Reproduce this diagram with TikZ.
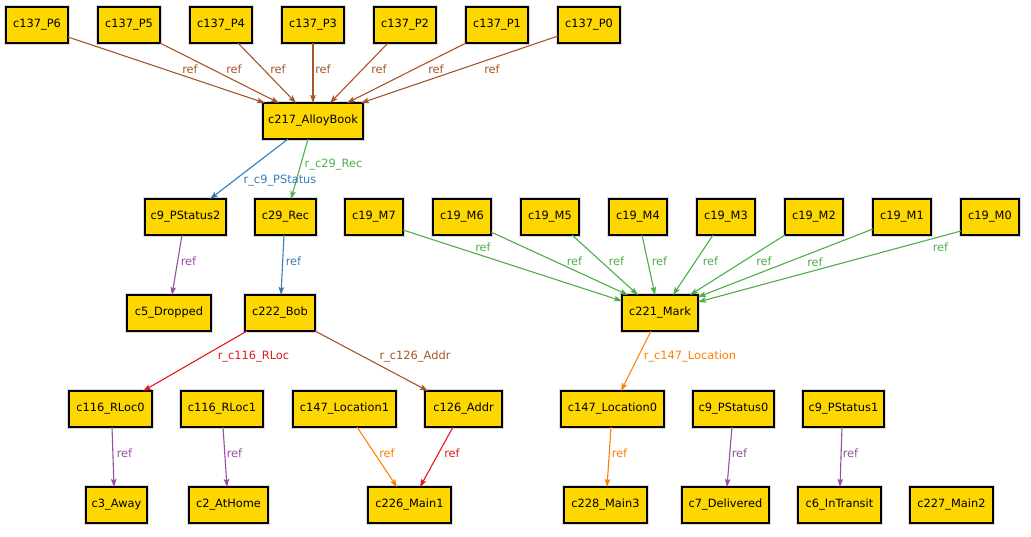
\documentclass[tikz,border=0pt]{standalone}
\usepackage{fontspec}
\setmainfont{DejaVu Sans}
\usetikzlibrary{arrows.meta}
\definecolor{ebrown}{HTML}{A65628}
\definecolor{egreen}{HTML}{4DAF4A}
\definecolor{eblue}{HTML}{377EB8}
\definecolor{epurple}{HTML}{984EA3}
\definecolor{ered}{HTML}{E41A1C}
\definecolor{eorange}{HTML}{FF7F00}
\definecolor{boxfill}{HTML}{FFD700}
\tikzset{
  atom/.style={draw=black, line width=1.2pt, fill=boxfill, inner sep=1pt, outer sep=0pt,
    minimum height=36pt, font=\fontsize{11.4}{13}\selectfont,
    preaction={draw=black!14, line width=3.2pt}},
  rel/.style={line width=1.1pt, -{Stealth[length=8pt,width=5.5pt,inset=1.5pt]}},
  lbl/.style={inner sep=0pt, font=\fontsize{11.4}{13}\selectfont},
}
\begin{document}
\begin{tikzpicture}[x=1pt,y=-1pt]
\useasboundingbox[fill=white] (0,0) rectangle (1031,537);

% top row: the seven pages
\node[atom, minimum width=62pt] (p6) at (37,25) {c137\_P6};
\node[atom, minimum width=62pt] (p5) at (129,25) {c137\_P5};
\node[atom, minimum width=62pt] (p4) at (221,25) {c137\_P4};
\node[atom, minimum width=62pt] (p3) at (313,25) {c137\_P3};
\node[atom, minimum width=62pt] (p2) at (405,25) {c137\_P2};
\node[atom, minimum width=62pt] (p1) at (497,25) {c137\_P1};
\node[atom, minimum width=62pt] (p0) at (589,25) {c137\_P0};

\node[atom, minimum width=100pt] (book) at (313,121) {c217\_AlloyBook};

% second row
\node[atom, minimum width=81pt] (ps2) at (185.5,217) {c9\_PStatus2};
\node[atom, minimum width=61pt] (rec) at (285.5,217) {c29\_Rec};
\node[atom, minimum width=58pt] (m7) at (374,217) {c19\_M7};
\node[atom, minimum width=58pt] (m6) at (462,217) {c19\_M6};
\node[atom, minimum width=58pt] (m5) at (550,217) {c19\_M5};
\node[atom, minimum width=58pt] (m4) at (638,217) {c19\_M4};
\node[atom, minimum width=58pt] (m3) at (726,217) {c19\_M3};
\node[atom, minimum width=58pt] (m2) at (814,217) {c19\_M2};
\node[atom, minimum width=58pt] (m1) at (902,217) {c19\_M1};
\node[atom, minimum width=58pt] (m0) at (990,217) {c19\_M0};

% third row
\node[atom, minimum width=84pt] (dropped) at (169,313) {c5\_Dropped};
\node[atom, minimum width=70pt] (bob) at (280,313) {c222\_Bob};
\node[atom, minimum width=76pt] (mark) at (660,313) {c221\_Mark};

% fourth row
\node[atom, minimum width=83pt] (rl0) at (110.5,409) {c116\_RLoc0};
\node[atom, minimum width=82pt] (rl1) at (222,409) {c116\_RLoc1};
\node[atom, minimum width=103pt] (loc1) at (344.5,409) {c147\_Location1};
\node[atom, minimum width=77pt] (addr) at (463.5,409) {c126\_Addr};
\node[atom, minimum width=103pt] (loc0) at (612.5,409) {c147\_Location0};
\node[atom, minimum width=81pt] (ps0) at (733.5,409) {c9\_PStatus0};
\node[atom, minimum width=81pt] (ps1) at (843.5,409) {c9\_PStatus1};

% bottom row
\node[atom, minimum width=61pt] (away) at (116.5,505) {c3\_Away};
\node[atom, minimum width=79pt] (home) at (228.5,505) {c2\_AtHome};
\node[atom, minimum width=83pt] (main1) at (409.5,505) {c226\_Main1};
\node[atom, minimum width=83pt] (main3) at (605.5,505) {c228\_Main3};
\node[atom, minimum width=87pt] (deliv) at (725.5,505) {c7\_Delivered};
\node[atom, minimum width=83pt] (trans) at (839.5,505) {c6\_InTransit};
\node[atom, minimum width=83pt] (main2) at (951.5,505) {c227\_Main2};

% pages -> book
\draw[rel, ebrown] ([yshift=6pt]p6.south east) -- ([xshift=2pt]book.north west);
\draw[rel, ebrown] (p5.south east) -- ([xshift=16pt]book.north west);
\draw[rel, ebrown] ([xshift=48pt]p4.south west) -- ([xshift=33pt]book.north west);
\draw[rel, ebrown] (p3.south) -- (book.north);
\draw[rel, ebrown] ([xshift=14pt]p2.south west) -- ([xshift=67pt]book.north west);
\draw[rel, ebrown] (p1.south west) -- ([xshift=84pt]book.north west);
\draw[rel, ebrown] ([yshift=7pt]p0.south west) -- ([xshift=-2pt]book.north east);
\node[lbl, ebrown] (lp6) at (190,69) {ref};
\node[lbl, ebrown] (lp5) at (234,69) {ref};
\node[lbl, ebrown] (lp4) at (278,69) {ref};
\node[lbl, ebrown] (lp3) at (323,69) {ref};
\node[lbl, ebrown] (lp2) at (379,69) {ref};
\node[lbl, ebrown] (lp1) at (436,69) {ref};
\node[lbl, ebrown] (lp0) at (492,69) {ref};

% book -> status and recipient
\draw[rel, eblue] ([xshift=25pt]book.south west) -- ([xshift=65pt]ps2.north west);
\draw[rel, egreen] ([xshift=45pt]book.south west) -- ([xshift=36pt]rec.north west);
\node[lbl, eblue] (lstat) at (280,181) {r\_c9\_PStatus};
\node[lbl, egreen] (lrec) at (333.5,165) {r\_c29\_Rec};

\draw[rel, epurple] ([xshift=37pt]ps2.south west) -- ([xshift=45pt]dropped.north west);
\draw[rel, eblue] ([xshift=29pt]rec.south west) -- ([xshift=36pt]bob.north west);
\node[lbl, epurple] (ldrop) at (188.5,261) {ref};
\node[lbl, eblue] (lbob) at (293.5,261) {ref};

% marks -> mark
\draw[rel, egreen] ([yshift=5pt]m7.south east) -- ([yshift=-6pt]mark.north west);
\draw[rel, egreen] ([yshift=3pt]m6.south east) -- ([xshift=6pt]mark.north west);
\draw[rel, egreen] ([xshift=51pt]m5.south west) -- ([xshift=16pt]mark.north west);
\draw[rel, egreen] ([xshift=33pt]m4.south west) -- ([xshift=33pt]mark.north west);
\draw[rel, egreen] ([xshift=16pt]m3.south west) -- ([xshift=51pt]mark.north west);
\draw[rel, egreen] (m2.south west) -- ([xshift=68pt]mark.north west);
\draw[rel, egreen] ([yshift=6pt]m1.south west) -- ([yshift=-2pt]mark.north east);
\draw[rel, egreen] ([yshift=4pt]m0.south west) -- ([yshift=-7pt]mark.north east);
\node[lbl, egreen] (lm7) at (483,247) {ref};
\node[lbl, egreen] (lm6) at (574.5,261) {ref};
\node[lbl, egreen] (lm5) at (616.5,261) {ref};
\node[lbl, egreen] (lm4) at (659.5,261) {ref};
\node[lbl, egreen] (lm3) at (710.5,261) {ref};
\node[lbl, egreen] (lm2) at (764,261) {ref};
\node[lbl, egreen] (lm1) at (815,262.5) {ref};
\node[lbl, egreen] (lm0) at (940.5,247) {ref};

% bob and mark -> fourth row
\draw[rel, ered] ([xshift=2pt]bob.south west) -- ([xshift=74pt]rl0.north west);
\draw[rel, ebrown] (bob.south east) -- ([xshift=3pt]addr.north west);
\draw[rel, eorange] ([xshift=29pt]mark.south west) -- ([xshift=60pt]loc0.north west);
\node[lbl, ered] (lrloc) at (253.5,357) {r\_c116\_RLoc};
\node[lbl, ebrown] (laddr) at (415,357) {r\_c126\_Addr};
\node[lbl, eorange] (lloc) at (690,357) {r\_c147\_Location};

% fourth row -> bottom row
\draw[rel, epurple] ([xshift=43pt]rl0.south west) -- ([xshift=28pt]away.north west);
\draw[rel, epurple] ([xshift=42pt]rl1.south west) -- ([xshift=38pt]home.north west);
\draw[rel, eorange] ([xshift=64pt]loc1.south west) -- ([xshift=29pt]main1.north west);
\draw[rel, ered] ([xshift=28pt]addr.south west) -- ([xshift=52pt]main1.north west);
\draw[rel, eorange] ([xshift=50pt]loc0.south west) -- ([xshift=43pt]main3.north west);
\draw[rel, epurple] ([xshift=39pt]ps0.south west) -- ([xshift=45pt]deliv.north west);
\draw[rel, epurple] ([xshift=39pt]ps1.south west) -- ([xshift=42pt]trans.north west);
\node[lbl, epurple] (laway) at (124.5,453) {ref};
\node[lbl, epurple] (lhome) at (234.5,453) {ref};
\node[lbl, eorange] (lmain1a) at (387,453) {ref};
\node[lbl, ered] (lmain1b) at (452,453) {ref};
\node[lbl, eorange] (lmain3) at (619.5,453) {ref};
\node[lbl, epurple] (ldeliv) at (739.5,453) {ref};
\node[lbl, epurple] (ltrans) at (850.5,453) {ref};
\end{tikzpicture}
\end{document}
